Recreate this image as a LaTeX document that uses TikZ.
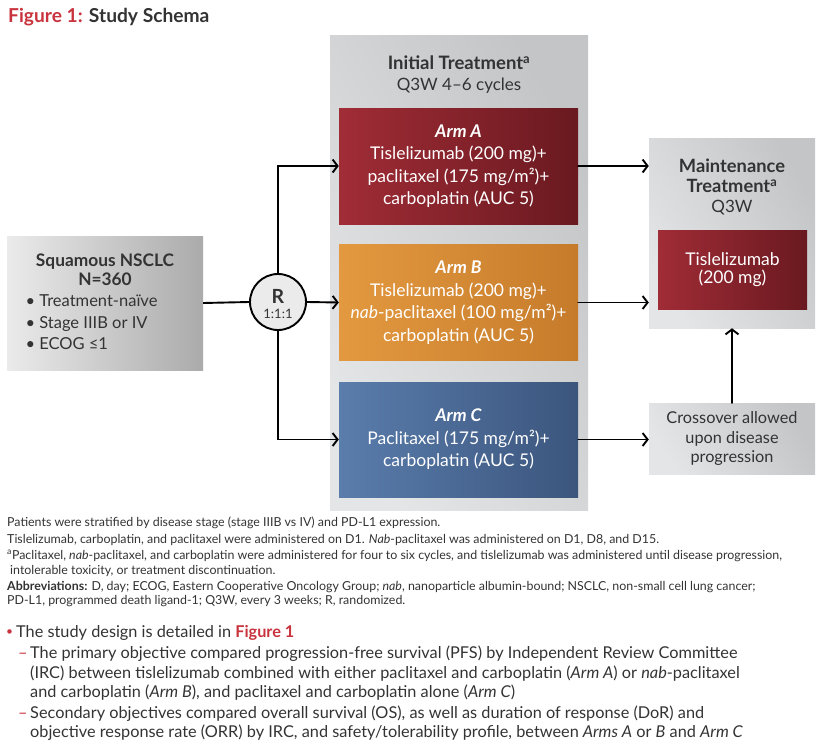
\documentclass[tikz,border=0pt]{standalone}
\usepackage{fontspec}
\setmainfont{Lato}
\usepackage{xcolor}
\usetikzlibrary{arrows.meta}

\definecolor{figred}{HTML}{C8333D}
\definecolor{inkgray}{HTML}{333333}
\definecolor{armAlight}{HTML}{A02C36}
\definecolor{armAdark}{HTML}{6A1920}
\definecolor{armBlight}{HTML}{E3993F}
\definecolor{armBdark}{HTML}{C67B2B}
\definecolor{armClight}{HTML}{5A7DAC}
\definecolor{armCdark}{HTML}{3B557D}
\definecolor{panellight}{HTML}{E4E5E6}
\definecolor{paneldark}{HTML}{C3C5C7}

\tikzset{
  panel/.style={draw=none, left color=panellight, right color=paneldark, shading angle=120, inner sep=0pt},
  armbox/.style={draw=none, minimum width=239pt, minimum height=116pt, inner sep=0pt,
    align=center, text=white, font=\fontsize{17.5}{22.5}\selectfont, shading angle=120},
  arr/.style={-{Straight Barb[length=5pt,width=13pt,line width=1.9pt]}, line width=1.9pt, line cap=round},
  plain/.style={line width=1.9pt},
  boxtext/.style={align=center, text=inkgray, font=\fontsize{16.3}{19.5}\selectfont},
  foot/.style={anchor=base west, inner sep=0pt, text=inkgray, font=\fontsize{12.4}{14}\selectfont},
  body/.style={anchor=base west, inner sep=0pt, text=inkgray, font=\fontsize{16.3}{18}\selectfont}
}

\begin{document}
\begin{tikzpicture}[x=1pt, y=-1pt]
\useasboundingbox (0,0) rectangle (827,744);

% title
\node[anchor=base west, inner sep=0pt, font=\bfseries\fontsize{19.2}{22}\selectfont] (title) at (8,22)
  {\textcolor{figred}{Figure 1:} \textcolor{inkgray}{Study Schema}};

% patients
\node[panel, left color=white!92!black, right color=black!33, minimum width=196pt, minimum height=134pt] (nsclc) at (105,303) {};
\node[boxtext, font=\bfseries\fontsize{17.3}{19}\selectfont] (nsclctitle) at (105,270) {Squamous NSCLC\\N=360};
\node[boxtext, align=left, anchor=west, font=\fontsize{16.5}{21.5}\selectfont] (nsclclist) at (22,322.5)
  {• Treatment-naïve\\• Stage IIIB or IV\\• ECOG ≤1};

% randomisation
\node[circle, draw, line width=1.9pt, fill=black!8, minimum size=56pt, inner sep=0pt] (R) at (278,302) {};
\node[text=inkgray, inner sep=0pt, font=\bfseries\fontsize{19.5}{19}\selectfont] (Rletter) at (278,296) {R};
\node[text=inkgray, inner sep=0pt, font=\fontsize{13}{13}\selectfont] (Rratio) at (278,314) {1:1:1};

% initial treatment
\node[panel, minimum width=258pt, minimum height=475pt] (initial) at (459,272.5) {};
\node[boxtext, font=\fontsize{17}{21}\selectfont] (initialtitle) at (459,74.5)
  {{\fontsize{18.5}{21}\selectfont\bfseries Initial Treatment\textsuperscript{a}}\\Q3W 4–6 cycles};

\node[armbox, left color=armAlight, right color=armAdark] (armA) at (458.5,166)
  {\textbf{\textit{Arm A}}\\Tislelizumab (200 mg)+\\paclitaxel (175 mg/m²)+\\carboplatin (AUC 5)};
\node[armbox, left color=armBlight, right color=armBdark] (armB) at (458.5,302.5)
  {\textbf{\textit{Arm B}}\\Tislelizumab (200 mg)+\\\textit{nab}-paclitaxel (100 mg/m²)+\\carboplatin (AUC 5)};
\node[armbox, left color=armClight, right color=armCdark, minimum height=115pt] (armC) at (458.5,439.5)
  {\textbf{\textit{Arm C}}\\Paclitaxel (175 mg/m²)+\\carboplatin (AUC 5)};

% maintenance
\node[panel, minimum width=166pt, minimum height=190pt] (maint) at (732,233) {};
\node[boxtext, font=\fontsize{17}{20}\selectfont] (mainttitle) at (732,187)
  {{\fontsize{18.3}{20}\selectfont\bfseries Maintenance}\\{\fontsize{18.3}{20}\selectfont\bfseries Treatment\textsuperscript{a}}\\Q3W};
\node[armbox, left color=armAlight, right color=armAdark, minimum width=149pt, minimum height=79pt,
  font=\fontsize{17.5}{18}\selectfont] (tisle) at (732.5,269.5) {Tislelizumab\\(200 mg)};

\node[panel, minimum width=166pt, minimum height=71pt, boxtext] (cross) at (732,438.5)
  {Crossover allowed\\upon disease\\progression};

% connectors
\draw[plain] (nsclc.east) -- (R.west);
\draw[arr] (R.north) |- (armA.west);
\draw[arr] (R.east) -- (armB.west);
\draw[arr] (R.south) |- (armC.west);
\draw[arr] (armA.east) -- (armA.east -| maint.west);
\draw[arr] (armB.east) -- (armB.east -| maint.west);
\draw[arr] (armC.east) -- (armC.east -| cross.west);
\draw[arr] (cross.north) -- (maint.south);

% footnotes
\node[foot] (f1) at (7,526) {Patients were stratified by disease stage (stage IIIB vs IV) and PD-L1 expression.};
\node[foot] (f2) at (7,543) {Tislelizumab, carboplatin, and paclitaxel were administered on D1. \textit{Nab}-paclitaxel was administered on D1, D8, and D15.};
\node[foot] (f3) at (7,559) {\textsuperscript{a}Paclitaxel, \textit{nab}-paclitaxel, and carboplatin were administered for four to six cycles, and tislelizumab was administered until disease progression,};
\node[foot] (f4) at (10,574) {intolerable toxicity, or treatment discontinuation.};
\node[foot] (f5) at (7,590) {\textbf{Abbreviations:} D, day; ECOG, Eastern Cooperative Oncology Group; \textit{nab}, nanoparticle albumin-bound; NSCLC, non-small cell lung cancer;};
\node[foot] (f6) at (7,604) {PD-L1, programmed death ligand-1; Q3W, every 3 weeks; R, randomized.};

% bullets
\node[body, text=figred, font=\fontsize{12}{12}\selectfont] (b1) at (6,635.5) {•};
\node[body] (t1) at (16,637) {The study design is detailed in \textcolor{figred}{\bfseries Figure 1}};
\node[body, text=figred] (b2) at (18,658) {–};
\node[body] (t2) at (30,658) {The primary objective compared progression-free survival (PFS) by Independent Review Committee};
\node[body] (t3) at (30,678) {(IRC) between tislelizumab combined with either paclitaxel and carboplatin (\textit{Arm A}) or \textit{nab}-paclitaxel};
\node[body] (t4) at (30,697) {and carboplatin (\textit{Arm B}), and paclitaxel and carboplatin alone (\textit{Arm C})};
\node[body, text=figred] (b3) at (18,718) {–};
\node[body] (t5) at (30,718) {Secondary objectives compared overall survival (OS), as well as duration of response (DoR) and};
\node[body] (t6) at (30,737) {objective response rate (ORR) by IRC, and safety/tolerability profile, between \textit{Arms A} or \textit{B} and \textit{Arm C}};
\end{tikzpicture}
\end{document}
